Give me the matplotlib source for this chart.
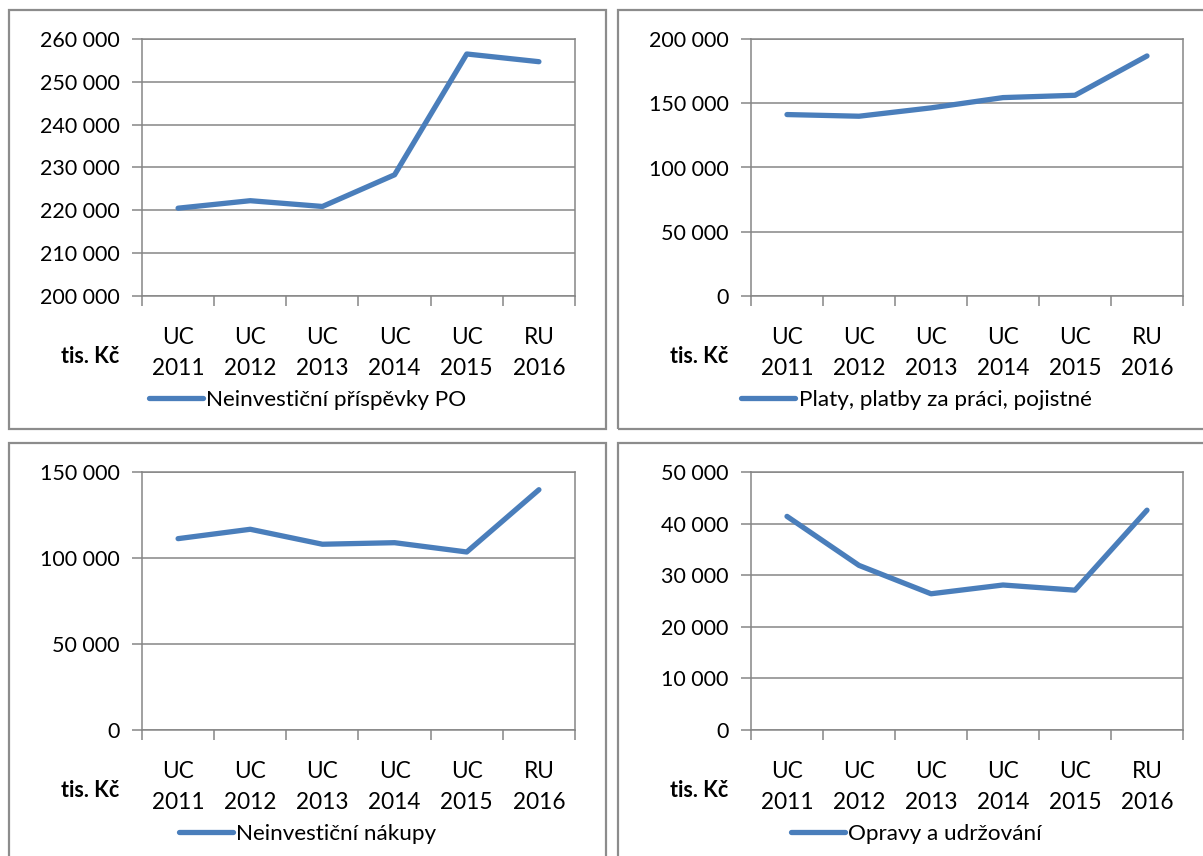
import matplotlib
matplotlib.use("Agg")
import matplotlib.pyplot as plt
from matplotlib.patches import Rectangle
from matplotlib.ticker import FixedLocator, FuncFormatter

plt.rcParams['font.family'] = ['Lato', 'DejaVu Sans']

# categories shared by all four charts
categories = ["UC\n2011", "UC\n2012", "UC\n2013", "UC\n2014", "UC\n2015", "RU\n2016"]

# series values (tis. Kč)
prispevky_po = [220500, 222250, 220900, 228300, 256500, 254700]
platy = [141200, 139900, 146400, 154400, 156200, 186800]
nakupy = [111250, 116700, 108000, 108900, 103500, 139700]
opravy = [41400, 31900, 26400, 28100, 27100, 42600]

series_names = ["Neinvestiční příspěvky PO", "Platy, platby za práci, pojistné",
                "Neinvestiční nákupy", "Opravy a udržování"]
series_values = [prispevky_po, platy, nakupy, opravy]
y_ticks = [
    [200000, 210000, 220000, 230000, 240000, 250000, 260000],
    [0, 50000, 100000, 150000, 200000],
    [0, 50000, 100000, 150000],
    [0, 10000, 20000, 30000, 40000, 50000],
]

W, H = 1203, 856
fig = plt.figure(figsize=(W / 100, H / 100), dpi=100)

line_col = '#4A7EBB'
grid_col = '#868686'
box_col = '#8C8C8C'

# pixel layout: panel boxes and plot areas (left, top, right, bottom)
panels = [(9, 10, 606, 429), (618, 10, 1215, 429), (9, 443, 606, 870), (618, 443, 1215, 870)]
plots = [(142, 39, 575, 296), (751, 39, 1183, 296), (142, 472, 575, 730), (751, 472, 1183, 730)]


def fmt(v, pos):
    return f"{v:,.0f}".replace(",", " ")


for i in range(4):
    pl, pt, pr, pb = panels[i]
    fig.patches.append(Rectangle((pl / W, 1 - pb / H), (pr - pl) / W, (pb - pt) / H,
                                 transform=fig.transFigure, fill=False,
                                 edgecolor=box_col, linewidth=1.6))
    l, t, r, b = plots[i]
    ax = fig.add_axes([l / W, 1 - b / H, (r - l) / W, (b - t) / H])
    x = list(range(len(categories)))
    ax.plot(x, series_values[i], color=line_col, linewidth=3.8,
            solid_capstyle='round', solid_joinstyle='round',
            label=series_names[i], zorder=3)
    ax.set_xlim(-0.5, len(categories) - 0.5)
    ax.set_ylim(y_ticks[i][0], y_ticks[i][-1])
    ax.set_yticks(y_ticks[i])
    ax.yaxis.set_major_formatter(FuncFormatter(fmt))
    ax.grid(axis='y', color=grid_col, linewidth=1.1)
    ax.set_axisbelow(True)

    # ticks on the category boundaries, labels in the middle
    ax.xaxis.set_major_locator(FixedLocator([k - 0.5 for k in range(len(categories) + 1)]))
    ax.xaxis.set_minor_locator(FixedLocator(x))
    ax.set_xticklabels([''] * (len(categories) + 1))
    ax.set_xticklabels(categories, minor=True, linespacing=1.62)
    ax.tick_params(axis='x', which='major', length=7, width=1.1, color=grid_col)
    ax.tick_params(axis='x', which='minor', length=0, pad=22, labelsize=16.3)
    ax.tick_params(axis='y', length=7, width=1.1, color=grid_col, pad=9, labelsize=15.5)
    for s in ax.spines.values():
        s.set_color(grid_col)
        s.set_linewidth(1.1)

    ax.text(-0.12, -0.235, "tis. Kč", transform=ax.transAxes, ha='center', va='center',
            fontsize=15.5, fontweight='bold')

    ax.legend(loc='center', bbox_to_anchor=((pl + pr) / 2 / W, 1 - (b + 104) / H),
              bbox_transform=fig.transFigure, frameon=False, fontsize=16.2,
              handlelength=2.4, handletextpad=0.15, borderpad=0)

fig.savefig("out.png", dpi=100)
